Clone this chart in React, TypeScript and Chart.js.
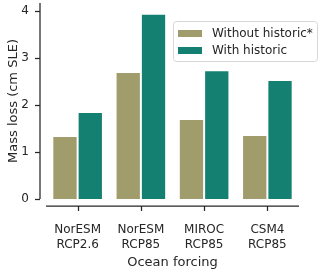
import React, { useEffect, useRef } from "react";
import { Chart, registerables } from "chart.js";

Chart.register(...registerables);

const categories: string[][] = [
  ["NorESM", "RCP2.6"],
  ["NorESM", "RCP85"],
  ["MIROC", "RCP85"],
  ["CSM4", "RCP85"],
];
const withoutHistoric: number[] = [1.34, 2.7, 1.7, 1.36];
const withHistoric: number[] = [1.85, 3.94, 2.74, 2.53];
const seriesLabels: string[] = ["Without historic*", "With historic"];
const yTicks: number[] = [0, 1, 2, 3, 4];

const OLIVE = "#a09c6b";
const TEAL = "#138072";
const INK = "#262626";
const FONT = "'DejaVu Sans', sans-serif";

const despinePlugin = {
  id: "despine",
  afterDraw(chart: any) {
    const { ctx, chartArea } = chart;
    const x = chart.scales.x;
    const y = chart.scales.y;
    ctx.save();
    ctx.strokeStyle = INK;
    ctx.lineWidth = 1.25;
    const yx = chartArea.left - 6;
    ctx.beginPath();
    ctx.moveTo(yx, chartArea.top);
    ctx.lineTo(yx, chartArea.bottom);
    ctx.stroke();
    yTicks.forEach((v) => {
      const py = Math.round(y.getPixelForValue(v)) + 0.5;
      ctx.beginPath();
      ctx.moveTo(yx - 5, py);
      ctx.lineTo(yx, py);
      ctx.stroke();
    });
    const xy = chartArea.bottom + 7;
    ctx.beginPath();
    ctx.moveTo(chartArea.left, xy);
    ctx.lineTo(chartArea.right, xy);
    ctx.stroke();
    categories.forEach((_, i) => {
      const px = Math.round(x.getPixelForValue(i)) + 0.5;
      ctx.beginPath();
      ctx.moveTo(px, xy);
      ctx.lineTo(px, xy + 5);
      ctx.stroke();
    });

    const bx = chartArea.right - 126;
    const by = chartArea.top + 18;
    const bw = 144;
    const bh = 40;
    ctx.fillStyle = "rgba(255,255,255,0.85)";
    ctx.strokeStyle = "#d6d6d6";
    ctx.lineWidth = 1;
    ctx.beginPath();
    (ctx as any).roundRect(bx + 0.5, by + 0.5, bw, bh, 3);
    ctx.fill();
    ctx.stroke();
    ctx.font = `12px ${FONT}`;
    ctx.textBaseline = "middle";
    ctx.textAlign = "left";
    chart.data.datasets.forEach((ds: any, i: number) => {
      const cy = by + 12 + i * 17;
      ctx.fillStyle = ds.backgroundColor;
      ctx.fillRect(bx + 5, cy - 3, 24, 7);
      ctx.fillStyle = INK;
      ctx.fillText(ds.label, bx + 39, cy + 1);
    });
    ctx.restore();
  },
};

export default function App() {
  const ref = useRef<HTMLCanvasElement | null>(null);
  useEffect(() => {
    document.body.style.margin = "0";
    const chart = new Chart(ref.current as HTMLCanvasElement, {
      type: "bar",
      data: {
        labels: categories,
        datasets: [
          { label: seriesLabels[0], data: withoutHistoric, backgroundColor: OLIVE, borderColor: "#ffffff", borderWidth: 1 },
          { label: seriesLabels[1], data: withHistoric, backgroundColor: TEAL, borderColor: "#ffffff", borderWidth: 1 },
        ],
      },
      options: {
        responsive: false,
        animation: false,
        layout: { padding: { top: 3, right: 21, left: 6, bottom: 0 } },
        plugins: { legend: { display: false }, tooltip: { enabled: false } },
        datasets: { bar: { categoryPercentage: 0.8, barPercentage: 1.0 } },
        scales: {
          x: {
            grid: { display: false, drawTicks: false },
            border: { display: false },
            ticks: { color: INK, font: { family: FONT, size: 12 }, padding: 24, maxRotation: 0, autoSkip: false },
            title: { display: true, text: "Ocean forcing", color: INK, font: { family: FONT, size: 13 }, padding: { top: 2, bottom: 3 } },
            afterFit: (s: any) => {
              s.height = 74;
              s.paddingLeft = 0;
              s.paddingRight = 0;
            },
          },
          y: {
            min: 0,
            max: 4.17,
            grid: { display: false, drawTicks: false },
            border: { display: false },
            afterBuildTicks: (s: any) => { s.ticks = yTicks.map((v) => ({ value: v })); },
            ticks: { color: INK, font: { family: FONT, size: 12 }, padding: 17 },
            title: { display: true, text: "Mass loss (cm SLE)", color: INK, font: { family: FONT, size: 13 }, padding: { top: 0, bottom: 0 } },
            afterFit: (s: any) => {
              s.width = 40;
              s.paddingTop = 0;
              s.paddingBottom = 0;
            },
          },
        },
      },
      plugins: [despinePlugin],
    });
    return () => chart.destroy();
  }, []);
  return <canvas ref={ref} width={320} height={273} style={{ display: "block" }} />;
}
